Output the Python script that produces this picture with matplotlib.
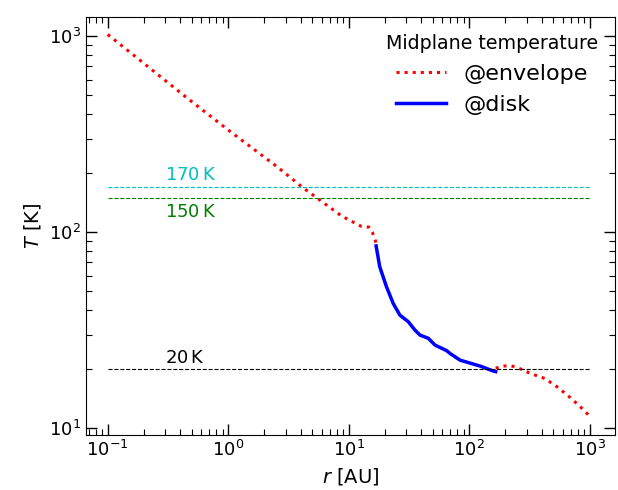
import numpy as np
import matplotlib.pyplot as plt

# midplane temperature, envelope model (inner and outer parts, gap where the disk sits)
r_env = [0.1, 0.2, 0.444, 1.0, 2.56, 4.1, 5.4, 8.7, 12.7, 14.7, 15.7, 16.6, 17.0,
         np.nan,
         166, 189, 220, 250, 287, 322, 424, 538, 672, 830, 1000]
T_env = [1020, 726, 490, 332, 215, 170, 150, 121, 107, 106, 100, 91, 86,
         np.nan,
         20.2, 20.7, 20.8, 20.4, 19.6, 19.0, 17.9, 16.2, 14.5, 12.9, 11.5]

# midplane temperature, disk model
r_disk = [16.9, 18.1, 20.6, 23.4, 26.6, 31.2, 35.5, 39.1, 45.8, 52.1, 65.2,
          69.5, 84.1, 123.6, 160, 166]
T_disk = [85, 66.6, 52.6, 43.3, 37.7, 34.9, 31.6, 29.8, 28.7, 26.5, 24.8,
          24.0, 22.2, 20.7, 19.5, 19.4]

# reference temperatures
T_ref = [170, 150, 20]
ref_colors = ['c', 'g', 'k']
ref_labels = ['170$\\,$K', '150$\\,$K', '20$\\,$K']

fig, ax = plt.subplots(figsize=(6.18, 4.9), dpi=100)
fig.subplots_adjust(left=0.139, right=0.995, top=0.965, bottom=0.112)

ax.plot(r_env, T_env, ':', color='r', lw=2.2, label='@envelope')
ax.plot(r_disk, T_disk, '-', color='b', lw=2.5, label='@disk')

for T, c, lab in zip(T_ref, ref_colors, ref_labels):
    ax.hlines(T, 0.1, 1000, colors=c, linestyles='--', lw=0.8)
    if T == 150:
        ax.text(0.3, T / 1.06, lab, color=c, fontsize=13, va='top', ha='left')
    else:
        ax.text(0.3, T * 1.03, lab, color=c, fontsize=13, va='bottom', ha='left')

ax.set_xscale('log')
ax.set_yscale('log')
ax.set_xlim(0.066, 1620)
ax.set_ylim(9.2, 1250)

ax.set_xlabel('$r$ [AU]', fontsize=14)
ax.set_ylabel('$T$ [K]', fontsize=14)
ax.tick_params(which='both', direction='in', top=True, right=True, labelsize=13)
ax.tick_params(which='major', length=8, width=1)
ax.tick_params(which='minor', length=4, width=0.8)

leg = ax.legend(loc='upper right', frameon=False, fontsize=16,
                title='Midplane temperature', title_fontsize=13.7,
                handlelength=2.25, labelspacing=0.5, borderaxespad=0.35)

fig.savefig('out.png')
